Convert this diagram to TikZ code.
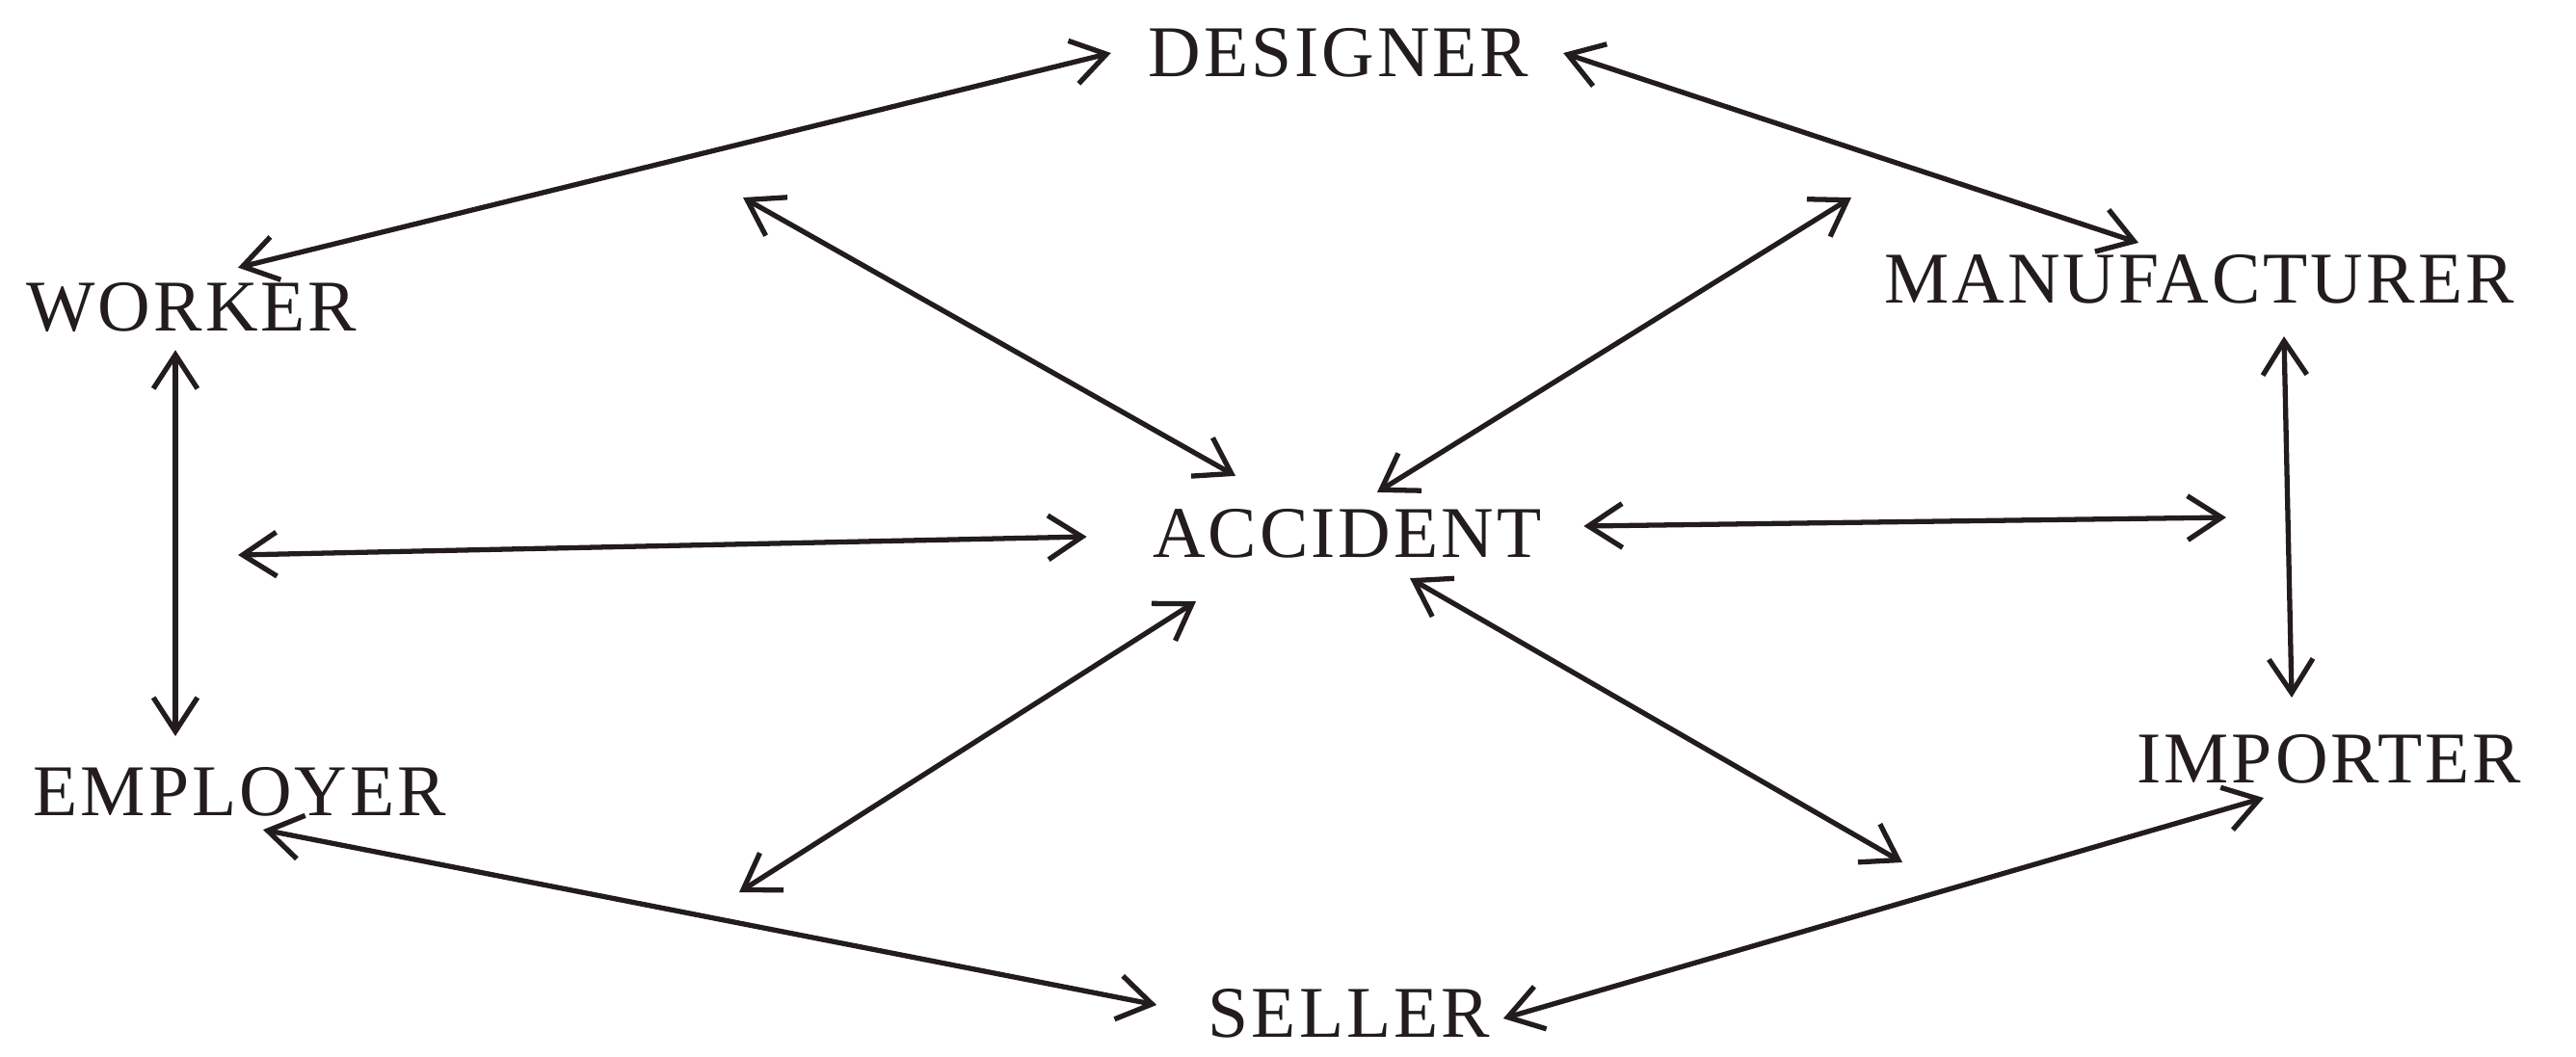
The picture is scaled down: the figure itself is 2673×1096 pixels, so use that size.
\documentclass[tikz,border=0pt]{standalone}
\usepackage{fontspec}
\setmainfont[LetterSpace=4]{Liberation Serif}
\usepackage{tikz}
\usetikzlibrary{arrows.meta}
\definecolor{InkBlack}{HTML}{221C1C}
\definecolor{PaperWhite}{HTML}{FFFFFF}
\tikzset{
    % Party label style
    partynode/.style={
        inner sep=0pt,
        text=InkBlack,
        font=\fontsize{21.5}{26}\selectfont
    },
    % Bidirectional arrow
    biarrow/.style={
        {Straight Barb[length=10pt,width=13pt]}-{Straight Barb[length=10pt,width=13pt]},
        line width=1.5pt,
        draw=InkBlack
    }
}

\begin{document}
\begin{tikzpicture}[x=0.01cm, y=-0.01cm]
    \fill[PaperWhite] (0,0) rectangle (2673,1096);

    \node[partynode] (designer) at (1389,55) {DESIGNER};
    \node[partynode] (worker) at (199,319) {WORKER};
    \node[partynode] (manufacturer) at (2282,290) {MANUFACTURER};
    \node[partynode] (accident) at (1398,554) {ACCIDENT};
    \node[partynode] (employer) at (249,822) {EMPLOYER};
    \node[partynode] (importer) at (2417,788) {IMPORTER};
    \node[partynode] (seller) at (1400,1052) {SELLER};

    % free ends round the accident
    \coordinate (upleft) at (771,205);
    \coordinate (upright) at (1921,205);
    \coordinate (midleft) at (247,576);
    \coordinate (midright) at (2310,537);
    \coordinate (lowleft) at (767,926);
    \coordinate (lowright) at (1974,895);

    % outer ring
    \draw[biarrow] ([shift={(48,-15)}]worker.north) -- ([shift={(-38,0)}]designer.west);
    \draw[biarrow] ([shift={(35,0)}]designer.east) -- ([shift={(-63,-12)}]manufacturer.north);
    \draw[biarrow] ([shift={(-17,18)}]worker.south) -- ([shift={(-67,-32)}]employer.north);
    \draw[biarrow] ([shift={(88,33)}]manufacturer.south) -- ([shift={(-39,-38)}]importer.north);
    \draw[biarrow] ([shift={(24,13)}]employer.south) -- ([shift={(-53,-9)}]seller.west);
    \draw[biarrow] ([shift={(13,5)}]seller.east) -- ([shift={(-68,14)}]importer.south);

    % spokes
    \draw[biarrow] (upleft) -- ([shift={(-116,-34)}]accident.north);
    \draw[biarrow] ([shift={(31,-17)}]accident.north) -- (upright);
    \draw[biarrow] (midleft) -- ([shift={(-68,3)}]accident.west);
    \draw[biarrow] ([shift={(43,-8)}]accident.east) -- (midright);
    \draw[biarrow] (lowleft) -- ([shift={(-157,44)}]accident.south);
    \draw[biarrow] ([shift={(65,20)}]accident.south) -- (lowright);
\end{tikzpicture}
\end{document}
